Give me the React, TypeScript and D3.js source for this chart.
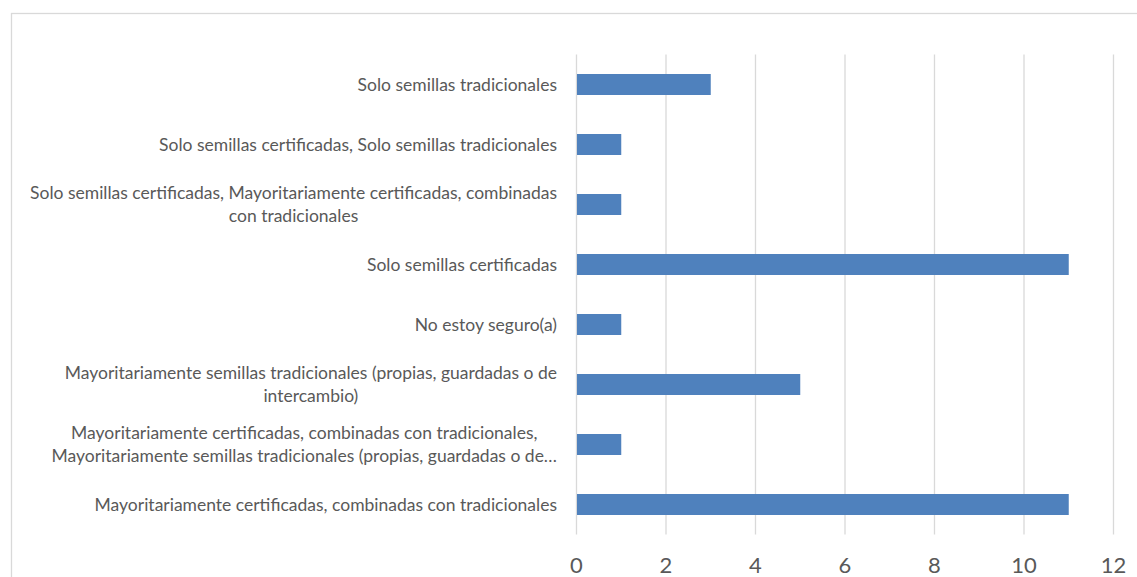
import React, { useRef, useEffect } from 'react';
import * as d3 from 'd3';

// categories, top to bottom as shown; long ones already split the way the chart wraps them
const categoryLines: string[][] = [
  ['Solo semillas tradicionales'],
  ['Solo semillas certificadas, Solo semillas tradicionales'],
  ['Solo semillas certificadas, Mayoritariamente certificadas, combinadas', 'con tradicionales'],
  ['Solo semillas certificadas'],
  ['No estoy seguro(a)'],
  ['Mayoritariamente semillas tradicionales (propias, guardadas o de', 'intercambio)'],
  ['Mayoritariamente certificadas, combinadas con tradicionales,', 'Mayoritariamente semillas tradicionales (propias, guardadas o de\u2026'],
  ['Mayoritariamente certificadas, combinadas con tradicionales'],
];
const counts = [3, 1, 1, 11, 1, 5, 1, 11];
const xTicks = [0, 2, 4, 6, 8, 10, 12];

const WIDTH = 1137;
const HEIGHT = 577;
const FONT = 'Lato, "Open Sans", sans-serif';

const App = () => {
  const svgRef = useRef<SVGSVGElement>(null);

  useEffect(() => {
    const svg = d3.select(svgRef.current);
    svg.selectAll('*').remove();

    const plot = { left: 576.5, right: 1113.5, top: 54.5, bottom: 534.5 };
    const ids = counts.map((_, i) => i);

    const x = d3.scaleLinear().domain([0, 12]).range([plot.left, plot.right]);
    const y = d3.scaleBand<number>()
      .domain(ids)
      .range([plot.top, plot.bottom])
      .paddingInner(0.65)
      .paddingOuter(0.325);

    // chart frame, runs off the right and bottom of the picture
    svg.append('rect')
      .attr('x', 11.5)
      .attr('y', 13.5)
      .attr('width', WIDTH)
      .attr('height', HEIGHT)
      .attr('fill', 'none')
      .attr('stroke', '#d9d9d9')
      .attr('stroke-width', 1.3);

    svg.append('g')
      .selectAll('line')
      .data(xTicks)
      .enter()
      .append('line')
      .attr('x1', d => x(d))
      .attr('x2', d => x(d))
      .attr('y1', plot.top)
      .attr('y2', plot.bottom)
      .attr('stroke', '#d9d9d9')
      .attr('stroke-width', 1.3);

    svg.append('g')
      .selectAll('rect')
      .data(ids)
      .enter()
      .append('rect')
      .attr('x', x(0) + 0.5)
      .attr('y', d => y(d)!)
      .attr('width', d => x(counts[d]) - x(0) - 0.5)
      .attr('height', y.bandwidth())
      .attr('fill', '#4f81bd');

    svg.append('g')
      .selectAll('text')
      .data(xTicks)
      .enter()
      .append('text')
      .attr('x', d => x(d))
      .attr('y', 573)
      .attr('text-anchor', 'middle')
      .attr('font-family', FONT)
      .attr('font-size', 22)
      .attr('fill', '#595959')
      .text(d => d);

    // category labels: block right-aligned to the axis, wrapped lines centred on each other
    const labelRight = 557;
    const lineGap = 22.5;
    const labels = svg.append('g')
      .attr('font-family', FONT)
      .attr('font-size', 17.5)
      .attr('fill', '#595959');

    ids.forEach(i => {
      const lines = categoryLines[i];
      const cy = y(i)! + y.bandwidth() / 2;
      const g = labels.append('g');
      const texts = g.selectAll('text')
        .data(lines)
        .enter()
        .append('text')
        .attr('text-anchor', 'middle')
        .attr('dy', '0.35em')
        .attr('y', (_, k) => cy + (k - (lines.length - 1) / 2) * lineGap)
        .text(d => d);
      let maxW = 0;
      texts.each(function () {
        maxW = Math.max(maxW, (this as SVGTextElement).getComputedTextLength());
      });
      texts.attr('x', labelRight - maxW / 2);
    });
  }, []);

  return (
    <svg
      ref={svgRef}
      width={WIDTH}
      height={HEIGHT}
      style={{ position: 'absolute', left: 0, top: 0, background: '#fff' }}
    />
  );
};

export default App;
